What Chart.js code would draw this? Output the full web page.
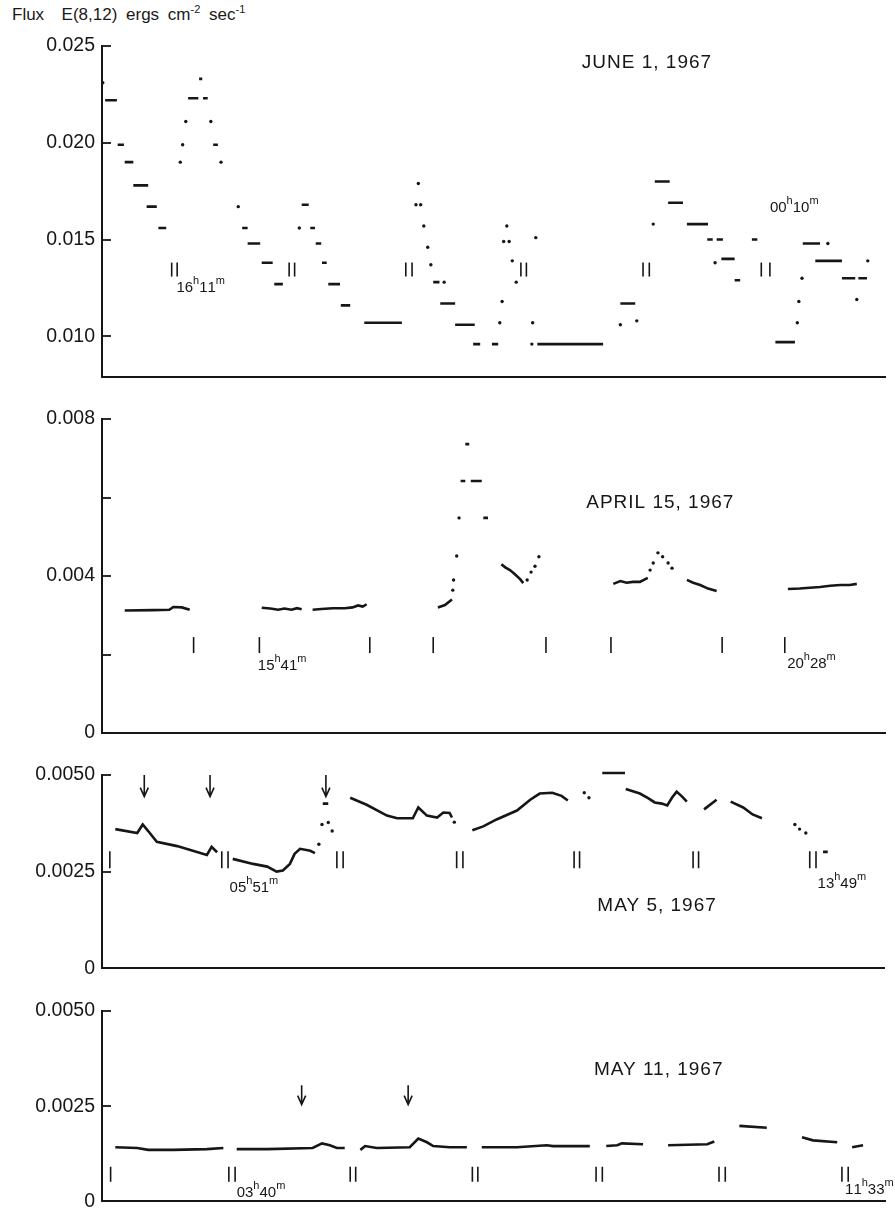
<!DOCTYPE html>
<html>
<head>
<meta charset="utf-8">
<script src="https://cdn.jsdelivr.net/npm/chart.js@4.4.0/dist/chart.umd.min.js"></script>
<style>
  html, body { margin: 0; padding: 0; background: #fff; }
  #wrap { position: relative; width: 895px; height: 1218px; overflow: hidden; }
  #wrap canvas { position: absolute; left: 0; }
  #head { position: absolute; left: 12px; top: 3px; font: 17px "Liberation Sans", Arial, sans-serif; word-spacing: 4px; color: #1a1a1a; white-space: pre; }
  #head sup { font-size: 11px; }
</style>
</head>
<body>
<div id="wrap">
  <div id="head">Flux  E(8,12) ergs cm<sup>-2</sup> sec<sup>-1</sup></div>
  <canvas id="c1" width="895" height="395" style="top:0px"></canvas>
  <canvas id="c2" width="895" height="355" style="top:395px"></canvas>
  <canvas id="c3" width="895" height="235" style="top:750px"></canvas>
  <canvas id="c4" width="895" height="233" style="top:985px"></canvas>
</div>
<script>
// ---- JUNE 1, 1967 ----  x = relative time (0..100), y = flux
const juneTicks = [0.010, 0.015, 0.020, 0.025];
const juneTickText = ['0.010', '0.015', '0.020', '0.025'];
// [x start, x end, flux]
const juneSteps = [
  [0.4, 1.9, 0.0222], [2.0, 2.8, 0.0199], [2.9, 4.0, 0.0190], [4.0, 5.9, 0.0178], [5.7, 7.0, 0.0167], [7.2, 8.2, 0.0156],
  [11.0, 12.3, 0.0223], [12.4, 12.8, 0.0233], [12.9, 13.5, 0.0223], [14.2, 14.8, 0.0199],
  [17.9, 18.6, 0.0156], [18.6, 20.2, 0.0148], [20.4, 21.8, 0.0138], [22.0, 23.1, 0.0127],
  [25.5, 26.4, 0.0168], [26.6, 27.2, 0.0156], [27.3, 28.0, 0.0148], [28.1, 28.7, 0.0138], [28.9, 30.4, 0.0127], [30.5, 31.7, 0.0116],
  [33.5, 38.3, 0.0107],
  [42.3, 43.1, 0.0128], [43.2, 45.1, 0.0117], [45.1, 47.6, 0.0106], [47.4, 48.3, 0.0096], [49.8, 50.6, 0.0096],
  [55.6, 64.0, 0.0096],
  [66.2, 68.1, 0.0117], [70.6, 72.5, 0.0180], [72.3, 74.2, 0.0169], [74.7, 77.4, 0.0158], [77.3, 78.0, 0.0150], [78.5, 79.3, 0.0150],
  [79.1, 80.8, 0.0140], [80.8, 81.5, 0.0129], [83.0, 83.7, 0.0150],
  [86.0, 88.5, 0.0097], [89.5, 91.7, 0.0148], [91.1, 94.5, 0.0139], [94.5, 96.2, 0.0130], [96.6, 97.7, 0.0130]
];
const juneDots = [
  [0.1, 0.0231], [10.0, 0.0190], [10.3, 0.0199], [10.7, 0.0211], [13.9, 0.0211], [15.2, 0.0190], [17.4, 0.0167], [25.2, 0.0156],
  [40.4, 0.0179], [40.1, 0.0168], [40.7, 0.0168], [41.1, 0.0157], [41.6, 0.0146], [42.0, 0.0137], [43.7, 0.0128],
  [50.8, 0.0107], [51.1, 0.0118], [51.7, 0.0157], [51.3, 0.0149], [52.0, 0.0149], [52.4, 0.0139], [52.9, 0.0128],
  [55.4, 0.0151], [55.0, 0.0107], [54.9, 0.0096], [66.2, 0.0106], [68.3, 0.0108], [70.4, 0.0158], [78.3, 0.0138],
  [88.8, 0.0107], [89.0, 0.0118], [89.4, 0.0130], [92.7, 0.0148], [97.8, 0.0139], [96.4, 0.0119]
];
const juneMarks = [8.9, 9.6, 23.9, 24.6, 38.8, 39.6, 53.5, 54.2, 69.1, 69.9, 84.2, 85.3];
const juneMarkLevel = 0.01345;
const juneNotes = [['16h11m', 9.5, 0.01227], ['00h10m', 85.3, 0.01644], ['JUNE 1, 1967', 69.6, 0.02387]];

// ---- APRIL 15, 1967 ----
const aprilTicks = [0, 0.002, 0.004, 0.006, 0.008];
const aprilTickText = ['0', '', '0.004', '', '0.008'];
const aprilLine = [
  [[2.9, 0.00312], [6.5, 0.00313], [8.6, 0.00314], [9.1, 0.00321], [10.2, 0.0032], [11.2, 0.00314]],
  [[20.4, 0.00319], [21.5, 0.00317], [22.5, 0.00314], [23.3, 0.00317], [24.2, 0.00314], [24.9, 0.00318], [25.5, 0.00315]],
  [[26.9, 0.00314], [28.0, 0.00316], [29.5, 0.00318], [31.0, 0.00318], [32.0, 0.0032], [32.7, 0.00325], [33.3, 0.00322], [33.8, 0.00328]],
  [[42.9, 0.0032], [43.8, 0.00326], [44.7, 0.0034]],
  [[51.0, 0.0043], [51.5, 0.00422], [52.1, 0.00415], [52.7, 0.00405], [53.4, 0.00392], [53.8, 0.00382]],
  [[65.3, 0.0038], [66.2, 0.00387], [67.0, 0.00383], [67.8, 0.00385], [68.7, 0.00385], [69.7, 0.00395]],
  [[74.7, 0.0039], [75.5, 0.00383], [76.4, 0.00377], [77.4, 0.00368], [78.5, 0.00362]],
  [[87.6, 0.00367], [89.1, 0.00368], [90.4, 0.0037], [91.7, 0.00372], [93.0, 0.00375], [94.3, 0.00377], [95.5, 0.00377], [96.4, 0.0038]]
];
const aprilSteps = [[45.8, 46.4, 0.00642], [46.4, 46.9, 0.00736], [47.1, 48.5, 0.00642], [48.7, 49.3, 0.00548]];
const aprilDots = [
  [44.8, 0.00364], [44.9, 0.0039], [45.3, 0.00451], [45.6, 0.00548],
  [54.3, 0.0039], [54.8, 0.0041], [55.3, 0.00425], [55.8, 0.00449],
  [70.0, 0.00415], [70.4, 0.00433], [71.0, 0.00459], [71.6, 0.00449], [72.3, 0.00433], [72.8, 0.0042]
];
const aprilMarks = [11.7, 20.1, 34.2, 42.3, 56.7, 65.0, 79.2, 87.2];
const aprilMarkLevel = 0.00224;
const aprilNotes = [['15h41m', 19.9, 0.0016], ['20h28m', 87.5, 0.00166], ['APRIL 15, 1967', 71.3, 0.00573]];

// ---- MAY 5, 1967 ----
const may5Ticks = [0, 0.0025, 0.005];
const may5TickText = ['0', '0.0025', '0.0050'];
const may5Line = [
  [[1.7, 0.0036], [4.5, 0.0035], [5.2, 0.00372], [5.9, 0.00355], [7.0, 0.00327], [9.6, 0.00316], [11.6, 0.00304], [13.4, 0.00293], [14.0, 0.00314], [14.7, 0.003]],
  [[16.7, 0.00283], [19.3, 0.0027], [21.1, 0.00263], [22.3, 0.0025], [23.1, 0.00253], [24.0, 0.0027], [24.6, 0.00296], [25.3, 0.00309], [26.6, 0.00304], [27.2, 0.00298]],
  [[31.7, 0.00441], [33.8, 0.00423], [36.4, 0.00395], [37.7, 0.00388], [39.7, 0.00388], [40.4, 0.00416], [41.5, 0.00395], [42.8, 0.0039], [43.6, 0.00403], [44.4, 0.00402], [44.7, 0.0039]],
  [[47.3, 0.00357], [48.7, 0.00367], [50.4, 0.00385], [53.0, 0.00408], [54.7, 0.00436], [55.9, 0.00452], [57.5, 0.00454], [58.7, 0.00446], [59.5, 0.00434]],
  [[66.9, 0.00464], [68.7, 0.00452], [69.7, 0.00441], [70.6, 0.00429], [71.5, 0.00426], [72.2, 0.00421], [72.8, 0.00441], [73.4, 0.00457], [74.1, 0.00444], [74.7, 0.00431]],
  [[76.9, 0.00411], [78.5, 0.00436]],
  [[80.3, 0.00431], [81.9, 0.00416], [83.1, 0.00398], [84.3, 0.00388]]
];
const may5Steps = [[28.2, 28.9, 0.00426], [63.9, 66.8, 0.00505], [92.1, 92.7, 0.00301]];
const may5Dots = [
  [27.7, 0.00321], [28.1, 0.00372], [28.9, 0.00377], [29.4, 0.00355], [45.0, 0.00378],
  [61.6, 0.00454], [62.2, 0.00441], [88.5, 0.00372], [89.1, 0.0036], [89.9, 0.0035]
];
const may5Marks = [1.0, 15.3, 16.1, 30.0, 30.8, 45.3, 46.1, 60.3, 61.0, 75.5, 76.2, 90.4, 91.2];
const may5MarkLevel = 0.00281;
const may5Arrows = [5.4, 13.8, 28.6];
const may5ArrowSpan = [0.005, 0.00444];
const may5Notes = [['05h51m', 16.3, 0.00196], ['13h49m', 91.4, 0.00207], ['MAY 5, 1967', 70.9, 0.00148]];

// ---- MAY 11, 1967 ----
const may11Ticks = [0, 0.0025, 0.005];
const may11TickText = ['0', '0.0025', '0.0050'];
const may11Line = [
  [[1.7, 0.00142], [4.5, 0.0014], [5.9, 0.00135], [9.1, 0.00135], [13.4, 0.00137], [15.5, 0.0014]],
  [[17.2, 0.00137], [21.1, 0.00137], [26.9, 0.0014], [28.1, 0.00152], [29.1, 0.00147], [30.0, 0.0014], [31.0, 0.0014]],
  [[33.0, 0.00135], [33.6, 0.00145], [35.1, 0.0014], [39.3, 0.00142], [40.4, 0.00165], [41.5, 0.00155], [42.3, 0.00145], [44.4, 0.00142], [46.6, 0.00142]],
  [[48.5, 0.00142], [53.0, 0.00142], [56.8, 0.00147], [57.6, 0.00145], [62.3, 0.00145]],
  [[64.4, 0.00145], [65.8, 0.00147], [66.4, 0.00152], [69.1, 0.0015]],
  [[72.3, 0.00147], [77.3, 0.0015], [78.2, 0.00157]],
  [[81.4, 0.00198], [84.9, 0.00193]],
  [[89.4, 0.00168], [90.8, 0.0016], [93.9, 0.00155]],
  [[95.8, 0.00142], [97.2, 0.00147]]
];
const may11Marks = [1.1, 16.2, 17.0, 31.7, 32.4, 47.3, 48.0, 63.1, 63.9, 78.8, 79.6, 94.5, 95.3];
const may11MarkLevel = 0.00071;
const may11Arrows = [25.5, 39.1];
const may11ArrowSpan = [0.00305, 0.00254];
const may11Notes = [['03h40m', 17.2, 0.0001], ['11h33m', 94.9, 0.00018], ['MAY 11, 1967', 71.1, 0.00333]];

const INK = '#161616';
const FONT = '"Liberation Sans", Arial, sans-serif';

function gapped(segs) {
  const out = [];
  segs.forEach(s => {
    s.forEach(p => out.push({ x: p[0], y: p[1] }));
    out.push({ x: s[s.length - 1][0], y: null });
  });
  return out;
}
const stepSegs = steps => steps.map(s => [[s[0], s[2]], [s[1], s[2]]]);

function drawTime(ctx, s, px, py) {
  let cx = px;
  ctx.textAlign = 'left';
  for (const ch of s) {
    const sup = ch === 'h' || ch === 'm';
    ctx.font = (sup ? '11px ' : '15px ') + FONT;
    ctx.fillText(ch, cx, sup ? py - 8 : py);
    cx += ctx.measureText(ch).width;
  }
}

// inward ticks, arrows and the text notes of each panel
const annot = {
  id: 'annot',
  afterDatasetsDraw(chart, args, opts) {
    const { ctx, chartArea: a, scales: { x, y } } = chart;
    ctx.save();
    ctx.strokeStyle = INK;
    ctx.fillStyle = INK;
    ctx.lineWidth = 1.8;
    y.ticks.forEach(t => {
      const py = Math.round(y.getPixelForValue(t.value));
      ctx.beginPath();
      ctx.moveTo(a.left, py);
      ctx.lineTo(a.left + 9, py);
      ctx.stroke();
    });
    (opts.arrows || []).forEach(v => {
      const px = x.getPixelForValue(v);
      const top = y.getPixelForValue(opts.span[0]);
      const tip = y.getPixelForValue(opts.span[1]);
      ctx.lineWidth = 1.6;
      ctx.beginPath();
      ctx.moveTo(px, top);
      ctx.lineTo(px, tip);
      ctx.moveTo(px - 4, tip - 9);
      ctx.lineTo(px, tip);
      ctx.lineTo(px + 4, tip - 9);
      ctx.stroke();
    });
    ctx.textBaseline = 'alphabetic';
    (opts.notes || []).forEach(([txt, xv, yv]) => {
      const px = x.getPixelForValue(xv);
      const py = y.getPixelForValue(yv);
      if (/^\d\dh\d\dm$/.test(txt)) {
        drawTime(ctx, txt, px, py);
      } else {
        ctx.font = '19px ' + FONT;
        ctx.letterSpacing = '1px';
        ctx.textAlign = 'center';
        ctx.fillText(txt, px, py);
        ctx.letterSpacing = '0px';
      }
    });
    ctx.restore();
  }
};

function makePanel(cfg) {
  const canvas = document.getElementById(cfg.id);
  const datasets = [
    {
      data: gapped(cfg.line.concat(stepSegs(cfg.steps))),
      showLine: true, borderColor: INK, borderWidth: 2.6, pointRadius: 0,
      spanGaps: false, clip: false, borderCapStyle: 'butt'
    },
    {
      data: cfg.dots.map(p => ({ x: p[0], y: p[1] })),
      pointRadius: 1.7, backgroundColor: INK, borderWidth: 0
    },
    {
      data: cfg.marks.map(v => ({ x: v, y: cfg.markLevel })),
      pointStyle: 'line', rotation: 90, pointRadius: cfg.markLen,
      borderColor: INK, borderWidth: 1.6
    }
  ];
  return new Chart(canvas.getContext('2d'), {
    type: 'scatter',
    data: { datasets },
    plugins: [annot],
    options: {
      responsive: false,
      animation: false,
      events: [],
      layout: { padding: { left: 0, right: 10, top: cfg.padTop, bottom: cfg.padBottom } },
      plugins: {
        legend: { display: false },
        tooltip: { enabled: false },
        annot: { notes: cfg.notes, arrows: cfg.arrows, span: cfg.span }
      },
      scales: {
        x: {
          type: 'linear', min: 0, max: 100,
          ticks: { display: false },
          grid: { display: false, drawTicks: false },
          border: { color: INK, width: 2 },
          afterFit: s => { s.height = 0; }
        },
        y: {
          type: 'linear', min: cfg.min, max: cfg.max,
          afterBuildTicks: s => { s.ticks = cfg.ticks.map(v => ({ value: v })); },
          ticks: {
            callback: (v, i) => cfg.tickText[i],
            padding: 7, color: INK,
            font: { family: FONT, size: 19.5, lineHeight: 1 }
          },
          grid: { display: false, drawTicks: false },
          border: { color: INK, width: 2 },
          afterFit: s => { s.width = 102; }
        }
      }
    }
  });
}

makePanel({
  id: 'c1', padTop: 46, padBottom: 18, min: 0.0079, max: 0.025,
  ticks: juneTicks, tickText: juneTickText,
  line: [], steps: juneSteps, dots: juneDots,
  marks: juneMarks, markLevel: juneMarkLevel, markLen: 7,
  notes: juneNotes
});
makePanel({
  id: 'c2', padTop: 24, padBottom: 17, min: 0, max: 0.008,
  ticks: aprilTicks, tickText: aprilTickText,
  line: aprilLine, steps: aprilSteps, dots: aprilDots,
  marks: aprilMarks, markLevel: aprilMarkLevel, markLen: 8,
  notes: aprilNotes
});
makePanel({
  id: 'c3', padTop: 25, padBottom: 14, min: 0, max: 0.005,
  ticks: may5Ticks, tickText: may5TickText,
  line: may5Line, steps: may5Steps, dots: may5Dots,
  marks: may5Marks, markLevel: may5MarkLevel, markLen: 8.5,
  notes: may5Notes, arrows: may5Arrows, span: may5ArrowSpan
});
makePanel({
  id: 'c4', padTop: 26, padBottom: 10, min: 0, max: 0.005,
  ticks: may11Ticks, tickText: may11TickText,
  line: may11Line, steps: [], dots: [],
  marks: may11Marks, markLevel: may11MarkLevel, markLen: 7.5,
  notes: may11Notes, arrows: may11Arrows, span: may11ArrowSpan
});
</script>
</body>
</html>
